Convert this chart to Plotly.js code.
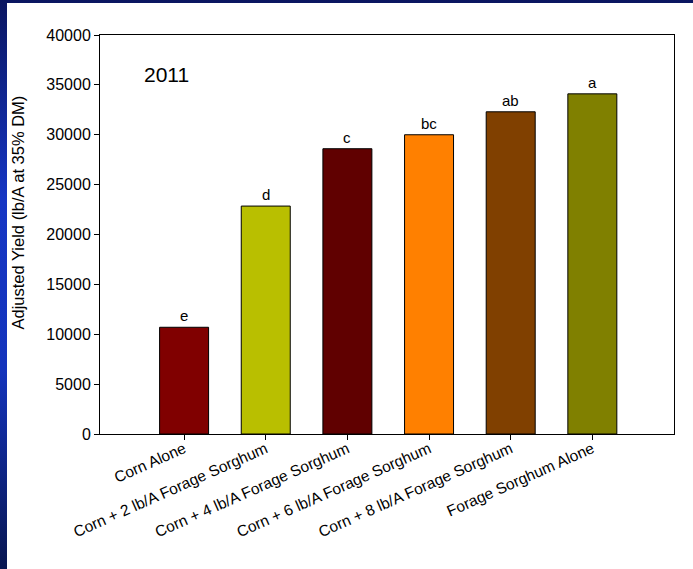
<!DOCTYPE html>
<html>
<head>
<meta charset="utf-8">
<script src="https://cdn.plot.ly/plotly-3.0.1.min.js"></script>
<style>
  html, body { margin: 0; padding: 0; }
  body {
    width: 693px; height: 569px; overflow: hidden; position: relative;
    background: linear-gradient(to bottom, #0a1660 0%, #1636c4 35%, #1434bc 65%, #081650 100%);
  }
  #chart { position: absolute; left: 7px; top: 3px; width: 686px; height: 566px; background: #fff; }
</style>
</head>
<body>
<div id="chart"></div>
<script>
const categories = [
  "Corn Alone",
  "Corn + 2 lb/A Forage Sorghum",
  "Corn + 4 lb/A Forage Sorghum",
  "Corn + 6 lb/A Forage Sorghum",
  "Corn + 8 lb/A Forage Sorghum",
  "Forage Sorghum Alone"
];
const yields = [10700, 22850, 28600, 30000, 32300, 34100];
const letters = ["e", "d", "c", "bc", "ab", "a"];
const barColors = ["#800000", "#b9bf00", "#600000", "#ff8000", "#804000", "#808000"];
const yTicks = [0, 5000, 10000, 15000, 20000, 25000, 30000, 35000, 40000];
const yearLabel = "2011";
const yTitle = "Adjusted Yield (lb/A at 35% DM)";

const font = "Arial, 'Liberation Sans', sans-serif";

const trace = {
  type: "bar",
  x: categories,
  y: yields,
  width: 0.6,
  marker: { color: barColors, line: { color: "#000000", width: 1 } },
  hoverinfo: "none"
};

const annotations = categories.map((c, i) => ({
  x: c, y: yields[i], xref: "x", yref: "y",
  text: letters[i], showarrow: false,
  xanchor: "center", yanchor: "bottom", yshift: 1,
  font: { family: font, size: 15, color: "#000" }
}));
annotations.push({
  x: 0.115, y: 0.9, xref: "paper", yref: "paper",
  text: yearLabel, showarrow: false, xanchor: "center", yanchor: "middle",
  font: { family: font, size: 21, color: "#000" }
});
annotations.push({
  x: -0.1429, y: 0.555, xref: "paper", yref: "paper",
  text: yTitle, showarrow: false, textangle: -90,
  xanchor: "center", yanchor: "middle",
  font: { family: font, size: 16.5, color: "#000" }
});

const layout = {
  width: 686, height: 566,
  margin: { l: 93, r: 19, t: 32, b: 135 },
  paper_bgcolor: "#ffffff",
  plot_bgcolor: "#ffffff",
  showlegend: false,
  font: { family: font, color: "#000" },
  xaxis: {
    type: "category",
    range: [-1.03, 6.0],
    showgrid: false, zeroline: false,
    showline: true, linecolor: "#000", linewidth: 1, mirror: true,
    ticks: "outside", ticklen: 5, tickcolor: "#000", tickwidth: 1,
    tickangle: -24,
    ticklabelstandoff: -6,
    tickfont: { family: font, size: 15.5, color: "#000" }
  },
  yaxis: {
    range: [0, 40000],
    tickvals: yTicks,
    ticktext: yTicks.map(String),
    showgrid: false, zeroline: false,
    showline: true, linecolor: "#000", linewidth: 1, mirror: true,
    ticks: "outside", ticklen: 5, tickcolor: "#000", tickwidth: 1,
    tickfont: { family: font, size: 16, color: "#000" }
  },
  annotations: annotations
};

Plotly.newPlot("chart", [trace], layout, { staticPlot: true, displayModeBar: false });
</script>
</body>
</html>
